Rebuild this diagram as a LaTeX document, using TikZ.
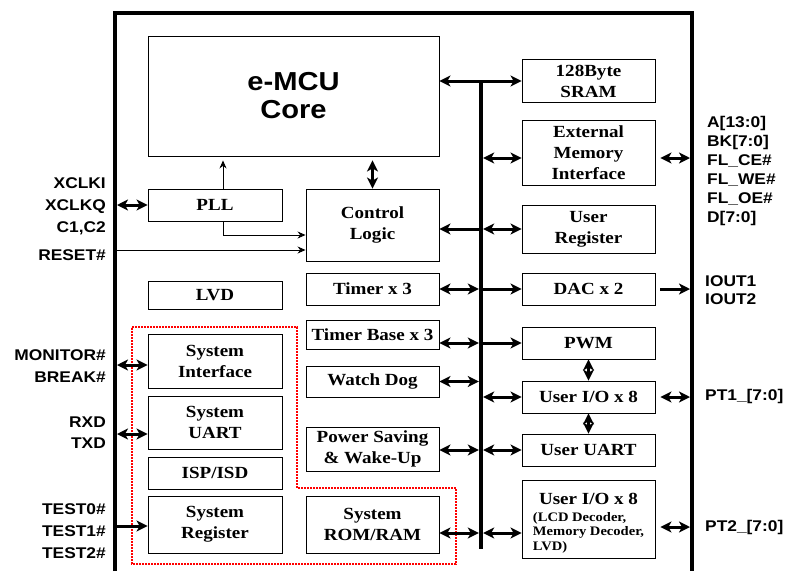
\documentclass[tikz,border=0pt]{standalone}
\usepackage{fontspec}
\setmainfont{Liberation Serif}[FakeStretch=1.12]
\newfontfamily\pinfont{Liberation Sans}[FakeStretch=1.12]
\usetikzlibrary{arrows.meta, positioning}

\begin{document}
\begin{tikzpicture}[
    x=1pt, y=-1pt,
    blk/.style={
        draw, line width=0.9pt, minimum width=133pt, minimum height=32pt,
        inner sep=1pt, align=center,
        font=\bfseries\fontsize{17}{21}\selectfont
    },
    core/.style={
        blk, minimum width=291pt, minimum height=120pt,
        font=\pinfont\bfseries\fontsize{26}{28}\selectfont
    },
    pin/.style={inner sep=0pt, font=\pinfont\bfseries\fontsize{15.5}{22}\selectfont},
    lpin/.style={pin, anchor=east, align=right},
    rpin/.style={pin, anchor=west, align=left},
    arr/.style={{Stealth[length=11pt,width=11pt,inset=3pt]}-{Stealth[length=11pt,width=11pt,inset=3pt]}, line width=3pt},
    arrto/.style={-{Stealth[length=11pt,width=11pt,inset=3pt]}, line width=3pt},
    arrfrom/.style={{Stealth[length=11pt,width=11pt,inset=3pt]}-, line width=3pt},
    sig/.style={-{Stealth[length=8pt,width=7pt]}, line width=0.9pt},
    busline/.style={line width=4.5pt},
    sysgrp/.style={draw=red, line width=1.8pt, dash pattern=on 1.6pt off 1.4pt}
]
    \useasboundingbox (0,0) rectangle (787,571);

    % Chip outline, open at the bottom
    \coordinate (chipL)  at (115,571);
    \coordinate (chipR)  at (692,571);
    \coordinate (chipTL) at (115,13);
    \coordinate (chipTR) at (692,13);
    \draw[line width=3.5pt] (chipL) -- (chipTL) -- (chipTR) -- (chipR);

    % Core and clock / reset
    \node[core] (core) at (293.5,96) {e-MCU\\Core};
    \node[blk, minimum width=134pt] (pll) at (215,205) {PLL};
    \node[blk, minimum height=72pt] (ctrl) at (372.5,225) {Control\\Logic};

    % Left column
    \node[blk, minimum width=134pt, minimum height=28pt] (lvd) at (215,295.5) {LVD};
    \node[blk, minimum width=134pt, minimum height=54pt] (sysif) at (215,361) {System\\Interface};
    \node[blk, minimum width=134pt, minimum height=53pt] (sysuart) at (215,422.5) {System\\UART};
    \node[blk, minimum width=134pt] (isp) at (215,473) {ISP/ISD};
    \node[blk, minimum width=134pt, minimum height=57pt] (sysreg) at (215,524.5) {System\\Register};

    % Middle column
    \node[blk] (tmr) at (372.5,289) {Timer x 3};
    \node[blk, minimum height=29pt] (tbase) at (372.5,334.5) {Timer Base x 3};
    \node[blk, minimum height=31pt] (wdog) at (372.5,381.5) {Watch Dog};
    \node[blk, minimum height=44pt] (psave) at (372.5,449) {Power Saving\\\& Wake-Up};
    \node[blk, minimum height=57pt] (rom) at (372.5,524.5) {System\\ROM/RAM};

    % Right column
    \node[blk, minimum height=43pt] (sram) at (588.5,81) {128Byte\\SRAM};
    \node[blk, minimum height=65pt] (emi) at (588.5,152.5) {External\\Memory\\Interface};
    \node[blk, minimum height=48pt] (ureg) at (588.5,229) {User\\Register};
    \node[blk] (dac) at (588.5,289) {DAC x 2};
    \node[blk] (pwm) at (588.5,343) {PWM};
    \node[blk] (uio1) at (588.5,397) {User I/O x 8};
    \node[blk] (uuart) at (588.5,450) {User UART};
    \node[blk, minimum height=78pt] (uio2) at (588.5,519)
        {\rule{0pt}{21pt}User I/O x 8\\[-4pt]{\fontsize{13}{14.5}\selectfont
         \renewcommand{\arraystretch}{0.98}%
         \begin{tabular}[t]{@{}l@{}}(LCD Decoder,\\Memory Decoder,\\LVD)\end{tabular}}};

    % System group
    \draw[sysgrp] (132,327) -- (297,327) -- (297,488) -- (456,488)
        -- (456,564) -- (132,564) -- cycle;

    % Internal bus
    \coordinate (bustop) at (481,81);
    \coordinate (busbot) at (481,549);
    \draw[arr] (core.east |- sram.west) -- (sram.west);
    \draw[arr, shorten <=2.2pt] ([yshift=-5.5pt]emi.west -| bustop) -- ([yshift=-5.5pt]emi.west);
    \draw[arrfrom] (ctrl.east |- ureg.west) -- (bustop |- ureg.west);
    \draw[arr, shorten <=2.2pt] (bustop |- ureg.west) -- (ureg.west);
    \draw[arr, shorten >=2.2pt] (tmr.east) -- (tmr.east -| bustop);
    \draw[arrto] (dac.west -| bustop) -- (dac.west);
    \draw[arr, shorten >=2.2pt] (tbase.east |- pwm.west) -- (bustop |- pwm.west);
    \draw[arrto] (bustop |- pwm.west) -- (pwm.west);
    \draw[arr, shorten >=2.2pt] (wdog.east) -- (wdog.east -| bustop);
    \draw[arr, shorten <=2.2pt] (uio1.west -| bustop) -- (uio1.west);
    \draw[arr, shorten >=2.2pt] (psave.east |- uuart.west) -- (bustop |- uuart.west);
    \draw[arr, shorten <=2.2pt] (uuart.west -| bustop) -- (uuart.west);
    \draw[arr, shorten >=2.2pt] ([yshift=-8.5pt]rom.east) -- ([yshift=-8.5pt]rom.east -| bustop);
    \draw[arr, shorten <=2.2pt] ([yshift=-8.5pt]rom.east -| bustop) -- ([yshift=-8.5pt]rom.east -| uio2.west);
    \draw[busline] (bustop) -- (busbot);

    % Vertical links
    \draw[arr, shorten <=4pt] (core.south -| ctrl.north) -- (ctrl.north);
    \draw[arr] (pwm.south) -- (uio1.north);
    \draw[arr] (uio1.south) -- (uuart.north);
    \draw[sig, shorten >=4pt] ([xshift=8pt]pll.north) -- ([xshift=8pt]pll.north |- core.south);
    \draw[sig] ([xshift=8pt]pll.south) |- ([yshift=-10pt]ctrl.west);
    \draw[sig] ([yshift=-25pt]ctrl.west -| chipL) -- ([yshift=-25pt]ctrl.west);

    % Left pins
    \draw[arr, shorten <=2pt] (pll.west -| chipL) -- (pll.west);
    \draw[arr, shorten <=2pt] ([yshift=-4pt]sysif.west -| chipL) -- ([yshift=-4pt]sysif.west);
    \draw[arr, shorten <=2pt] ([yshift=-11.5pt]sysuart.west -| chipL) -- ([yshift=-11.5pt]sysuart.west);
    \draw[arrto] ([yshift=-1.5pt]sysreg.west -| chipL) -- ([yshift=-1.5pt]sysreg.west);

    \node[lpin] (clkpins) at (106,206.5) {XCLKI\\XCLKQ\\C1,C2};
    \node[lpin] (rstpin) at (106,255) {RESET\#};
    \node[lpin] (monpins) at (106,366) {MONITOR\#\\BREAK\#};
    \node[lpin, font=\pinfont\bfseries\fontsize{15.5}{21}\selectfont] (uartpins) at (106,432.5) {RXD\\TXD};
    \node[lpin] (testpins) at (106,531) {TEST0\#\\TEST1\#\\TEST2\#};

    % Right pins
    \draw[arr, shorten <=5pt, shorten >=2pt] ([yshift=-5.5pt]emi.east) -- ([yshift=-5.5pt]emi.east -| chipR);
    \draw[arrto, shorten <=5pt, shorten >=2pt] (dac.east) -- (dac.east -| chipR);
    \draw[arr, shorten <=5pt, shorten >=2pt] (uio1.east) -- (uio1.east -| chipR);
    \draw[arr, shorten <=5pt, shorten >=2pt] ([yshift=-8pt]uio2.east) -- ([yshift=-8pt]uio2.east -| chipR);

    \node[rpin, font=\pinfont\bfseries\fontsize{15.5}{19}\selectfont] (mempins) at (707,170.5)
        {A[13:0]\\BK[7:0]\\FL\_CE\#\\FL\_WE\#\\FL\_OE\#\\D[7:0]};
    \node[rpin, font=\pinfont\bfseries\fontsize{15.5}{18}\selectfont] (iopins) at (705,290) {IOUT1\\IOUT2};
    \node[rpin] (pt1) at (705,396) {PT1\_[7:0]};
    \node[rpin] (pt2) at (705,527) {PT2\_[7:0]};
\end{tikzpicture}
\end{document}
